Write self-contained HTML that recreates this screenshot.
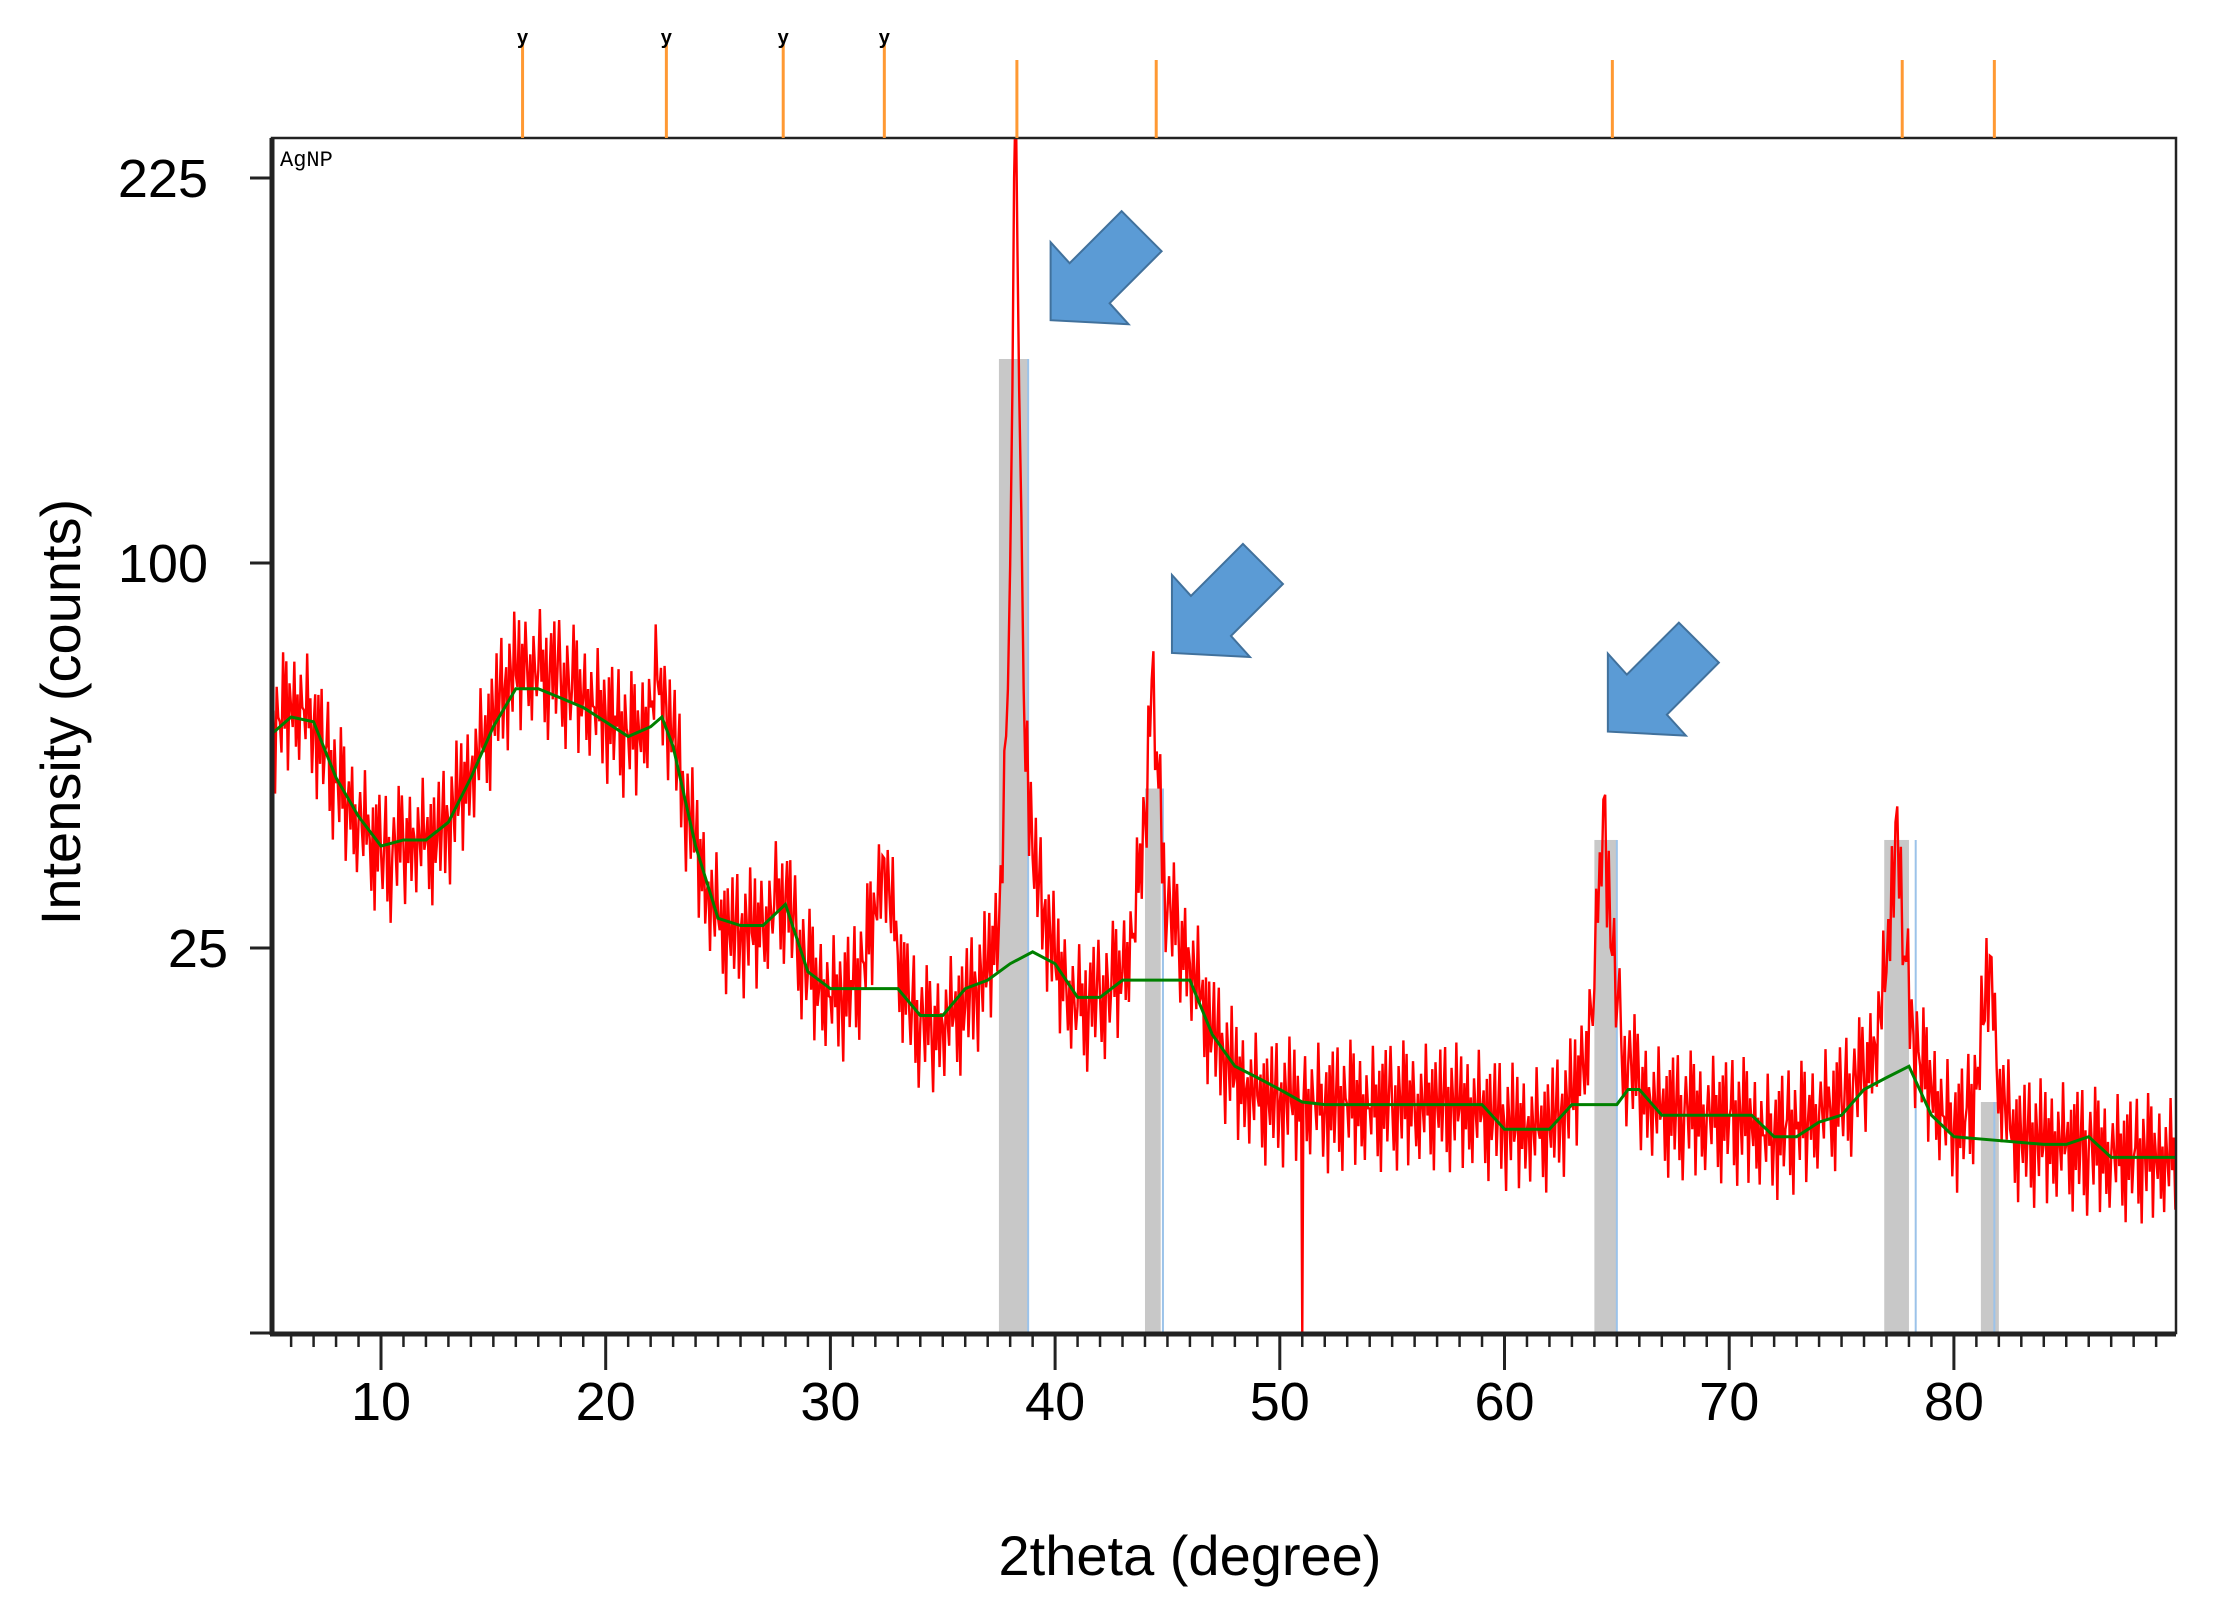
<!DOCTYPE html>
<html><head><meta charset="utf-8"><style>
html,body{margin:0;padding:0;background:#fff;}
svg{display:block;}
text{font-family:"Liberation Sans",Arial,sans-serif;fill:#000;}
</style></head><body>
<svg id="chart" width="2215" height="1609" viewBox="0 0 2215 1609" xmlns="http://www.w3.org/2000/svg">
<defs><clipPath id="plotclip"><rect x="272" y="138" width="1904" height="1195"/></clipPath></defs>
<g id="bars" clip-path="url(#plotclip)"></g>
<g id="series" clip-path="url(#plotclip)"></g>
<g id="axes"></g>
<g id="markers"></g>
<text x="280" y="166" font-size="22" style="font-family:'Liberation Mono',monospace">AgNP</text>
<text x="1190" y="1575" font-size="56" text-anchor="middle">2theta (degree)</text>
<text transform="translate(80,712) rotate(-90)" font-size="56" text-anchor="middle">Intensity (counts)</text>
<g id="arrows"></g>
</svg>
<script>
const angles=[5,5.5,6,6.5,7,7.5,8,8.5,9,9.5,10,10.5,11,11.5,12,12.5,13,13.5,14,14.5,15,15.5,16,16.5,17,17.5,18,18.5,19,19.5,20,20.5,21,21.5,22,22.3,22.7,23,23.5,24,24.5,25,25.5,26,26.5,27,27.5,28,28.5,29,29.5,30,30.5,31,31.5,32,32.4,33,33.5,34,34.5,35,35.5,36,36.5,37,37.5,37.9,38.1,38.25,38.4,38.6,39,39.5,40,40.5,41,41.5,42,42.5,43,43.5,44,44.3,44.6,45,45.5,46,46.5,47,47.5,48,48.5,49,49.5,50,50.5,50.95,51,51.05,51.5,52,53,54,55,56,57,58,59,59.5,60,60.5,61,61.5,62,62.5,63,63.5,64,64.4,64.8,65.2,65.5,66,66.5,67,68,69,70,71,71.5,72,72.5,73,73.5,74,74.5,75,75.5,76,76.5,77,77.4,77.8,78.2,78.5,79,79.5,80,80.5,81,81.3,81.6,81.9,82.5,83,84,85,86,87,88,89,90];
const counts=[60,63,66,66,62,57,51,47,44,41,39,38,40,41,41,41,44,48,53,58,64,70,73,75,74,73,72,70,68,66,64,62,60,60,66,72,66,60,48,40,33,29,27,27,27,28,31,32,26,22,20,19,19,20,23,30,38,24,18,16,15,16,17,18,20,22,28,70,150,260,150,70,38,30,23,20,18,18,19,20,22,27,45,72,50,30,26,23,19,15,13,11,10,9.5,9,9,9,9,0,9,9,8.5,8.8,8.5,8.8,8.6,8.8,8.5,8.2,7.8,7.3,7,7,7,7.2,8,9,12,20,48,24,14,12,10,9,8.3,8,7.8,7.8,7.3,6.6,6.5,7,7,7.5,8,8.5,9,10,11,14,22,44,24,15,12,10,8,7,7.5,10,16,24,12,7,6.3,6,6,5.6,5.3,5.2,5.1,5];
const jitter=[0.9,-0.7,0.3,-1,0.6,0.1,-0.5,1,-0.2,0.8,-0.9,0.4,-0.3,0.7,-0.6,0.2,-0.8,0.5,0,-0.4,0.95,-0.15,0.35,-0.75,0.55,-1,0.65,-0.35,0.85,-0.55,0.15];
const bgAngles=[5,6,7,8,9,10,11,12,13,14,15,16,17,18,19,20,21,22,22.5,23,24,25,26,27,28,29,30,31,32,33,34,35,36,37,38,39,40,41,42,43,44,45,46,47,48,49,50,51,52,59,60,62,63,65,65.5,66,67,71,72,73,74,75,76,77,78,79,80,84,85,86,87,90];
const bgCounts=[60,64,63,52,45,40,41,41,44,52,62,70,70,68,66,63,60,62,64,58,40,29,28,28,31,22,20,20,20,20,17,17,20,21,23,24.5,23,19,19,21,21,21,21,15,12,11,10,9,8.8,8.8,7,7,8.8,8.8,10,10,8,8,6.5,6.5,7.5,8,10,11,12,8,6.5,6,6,6.5,5.2,5.2];
const barStart=[37.5,44.0,64.0,76.9,81.2];
const barEnd=[38.8,44.7,65.0,78.0,82.0];
const barTop=[160,50,41,41,9];
const refLines=[38.8,44.8,65.0,78.3,81.8];
const markerAngles=[16.3,22.7,27.9,32.4,38.3,44.5,64.8,77.7,81.8];
const markerTall=[1,1,1,1,0,0,0,0,0];
const xTicks=[10,20,30,40,50,60,70,80];
const yTicks=[225,100,25,0];
const arrowTips=[[39.8,173],[45.2,78],[64.6,61]];

const NS='http://www.w3.org/2000/svg';
const X=t=>381+(t-10)*22.47;
const Y=v=>1333-77*Math.sqrt(Math.max(v,0));
const YS=s=>1333-77*s;
function mk(tag,attrs,parent){const e=document.createElementNS(NS,tag);for(const k in attrs)e.setAttribute(k,attrs[k]);parent.appendChild(e);return e;}
const gBars=document.getElementById('bars'),gS=document.getElementById('series'),gA=document.getElementById('axes'),gM=document.getElementById('markers'),gAr=document.getElementById('arrows');

barStart.forEach((b,i)=>{
 const r=mk('rect',{x:X(b),y:Y(barTop[i]),width:X(barEnd[i])-X(b),height:1333-Y(barTop[i]),fill:'#c8c8c8'},gBars);
 
 
 const l=mk('line',{x1:X(refLines[i]),x2:X(refLines[i]),y1:1333,y2:Y(barTop[i]),stroke:'#9cc3ea','stroke-width':2},gBars);
 
 
});

let pts=[],k=0;
for(let i=0;i<angles.length;i++){
 const s0=Math.sqrt(counts[i]);
 pts.push(X(angles[i])+','+YS(s0));
 if(i<angles.length-1){
  const x0=X(angles[i]),x1=X(angles[i+1]);
  const s1=Math.sqrt(counts[i+1]);
  const n=Math.max(0,Math.floor((x1-x0)/1.6)-1);
  for(let j=1;j<=n;j++){
   const f=j/(n+1);
   const s=s0+(s1-s0)*f;
   pts.push((x0+(x1-x0)*f)+','+YS(s+0.85*jitter[k%jitter.length]));
   k++;
  }
 }
}
const red=mk('polyline',{points:pts.join(' '),fill:'none',stroke:'#ff0000','stroke-width':2.4},gS);



const green=mk('polyline',{points:bgAngles.map((a,i)=>X(a)+','+Y(bgCounts[i])).join(' '),fill:'none',stroke:'#008000','stroke-width':3},gS);



const fr=mk('rect',{x:272,y:138,width:1904,height:1195,fill:'none',stroke:'#222','stroke-width':2.5},gA);


mk('line',{x1:272,x2:272,y1:138,y2:1335,stroke:'#222','stroke-width':5},gA);
mk('line',{x1:270,x2:2176,y1:1334,y2:1334,stroke:'#222','stroke-width':5},gA);
for(let t=6;t<=89;t++){
 const major=t%10===0;
 mk('line',{x1:X(t),x2:X(t),y1:1334,y2:major?1370:1347,stroke:'#222','stroke-width':major?3:2.5},gA);
}
xTicks.forEach(t=>{
 const tx=mk('text',{x:X(t),y:1420,'font-size':54,'text-anchor':'middle'},gA);
 tx.textContent=t;
 
 
});
yTicks.forEach(v=>{
 mk('line',{x1:250,x2:272,y1:Y(v),y2:Y(v),stroke:'#222','stroke-width':3},gA);
 if(v>0){
  const tx=mk('text',{x:v===25?228:208,y:Y(v)+19,'font-size':54,'text-anchor':'end'},gA);
  tx.textContent=v;
  
  
 }
});

markerAngles.forEach((a,i)=>{
 const top=markerTall[i]?40:60;
 const l=mk('line',{x1:X(a),x2:X(a),y1:top,y2:138,stroke:'#ff9933','stroke-width':3},gM);
 
 
 if(markerTall[i]){
  const t=mk('text',{x:X(a),y:44,'font-size':20,'text-anchor':'middle','font-weight':'bold'},gM);
  t.textContent='y';
  
  
 }
});

const shape=[[0,0],[0,-78],[19,-57],[71,-109],[111,-69],[59,-17],[78,4]];
arrowTips.forEach(p=>{
 const tx=X(p[0]),ty=Y(p[1]);
 const a=mk('polygon',{points:shape.map(q=>(tx+q[0])+','+(ty+q[1])).join(' '),fill:'#5b9bd5',stroke:'#41719c','stroke-width':2},gAr);
 
 
});
</script>
</body></html>
